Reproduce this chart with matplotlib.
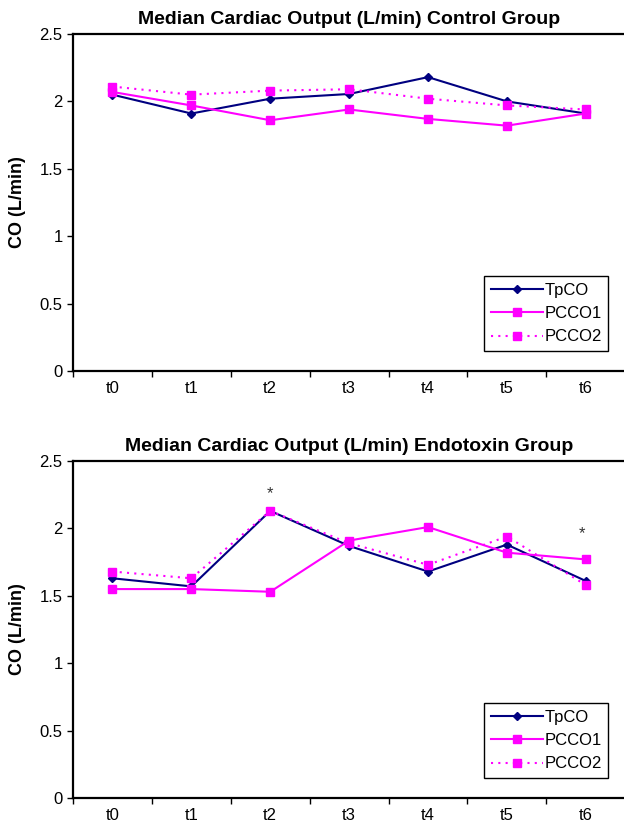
import matplotlib.pyplot as plt

plt.rcParams['font.family'] = ['Liberation Sans', 'DejaVu Sans']

times = ['t0', 't1', 't2', 't3', 't4', 't5', 't6']

control_tpco = [2.05, 1.91, 2.02, 2.055, 2.18, 2.00, 1.91]
control_pcco1 = [2.07, 1.97, 1.86, 1.94, 1.87, 1.82, 1.91]
control_pcco2 = [2.11, 2.05, 2.08, 2.09, 2.02, 1.97, 1.94]

endo_tpco = [1.63, 1.57, 2.13, 1.87, 1.68, 1.88, 1.61]
endo_pcco1 = [1.55, 1.55, 1.53, 1.91, 2.01, 1.82, 1.77]
endo_pcco2 = [1.68, 1.63, 2.13, 1.89, 1.73, 1.94, 1.58]

# significance marks in the endotoxin panel: (x, y)
endo_stars = [(2.0, 2.26), (5.95, 1.96)]

NAVY = '#000080'
MAGENTA = '#FF00FF'


def draw_panel(ax, title, tpco, pcco1, pcco2, stars=()):
    x = range(len(times))
    ax.plot(x, tpco, color=NAVY, lw=1.5, marker='D', ms=4.5, label='TpCO')
    ax.plot(x, pcco1, color=MAGENTA, lw=1.5, marker='s', ms=6, label='PCCO1')
    ax.plot(x, pcco2, color=MAGENTA, lw=1.5, ls=(0, (1, 2.5)), marker='s', ms=6,
            label='PCCO2')
    for sx, sy in stars:
        ax.text(sx, sy, '*', ha='center', va='center', fontsize=12, color='#333333')

    ax.set_xlim(-0.5, 6.5)
    ax.set_ylim(0, 2.5)
    ax.set_xticks([i - 0.5 for i in range(8)])
    ax.set_xticklabels([])
    ax.set_xticks(list(x), minor=True)
    ax.set_xticklabels(times, minor=True)
    ax.tick_params(axis='x', which='major', direction='out', length=4, width=1)
    ax.tick_params(axis='x', which='minor', length=0, labelsize=12, pad=7)
    ax.set_yticks([0, 0.5, 1, 1.5, 2, 2.5])
    ax.set_yticklabels(['0', '0.5', '1', '1.5', '2', '2.5'])
    ax.tick_params(axis='y', direction='out', length=4, width=1, labelsize=12)
    for s in ax.spines.values():
        s.set_linewidth(1.6)
    ax.set_ylabel('CO (L/min)', fontsize=13, fontweight='bold', labelpad=10)
    ax.set_title(title, fontsize=14, fontweight='bold', pad=7)
    leg = ax.legend(loc='lower left', bbox_to_anchor=(0.745, 0.059), borderaxespad=0,
                    fancybox=False, framealpha=1, edgecolor='black', fontsize=12,
                    handlelength=3.1, handletextpad=0.1, labelspacing=0.5,
                    borderpad=0.4)
    leg.get_frame().set_linewidth(1.0)


fig = plt.figure(figsize=(6.24, 8.25), dpi=100)
ax1 = fig.add_axes([0.117, 0.5503, 0.885, 0.4085])
ax2 = fig.add_axes([0.117, 0.0327, 0.885, 0.4085])

draw_panel(ax1, 'Median Cardiac Output (L/min) Control Group',
           control_tpco, control_pcco1, control_pcco2)
draw_panel(ax2, 'Median Cardiac Output (L/min) Endotoxin Group',
           endo_tpco, endo_pcco1, endo_pcco2, endo_stars)

fig.savefig('out.png', dpi=100)
